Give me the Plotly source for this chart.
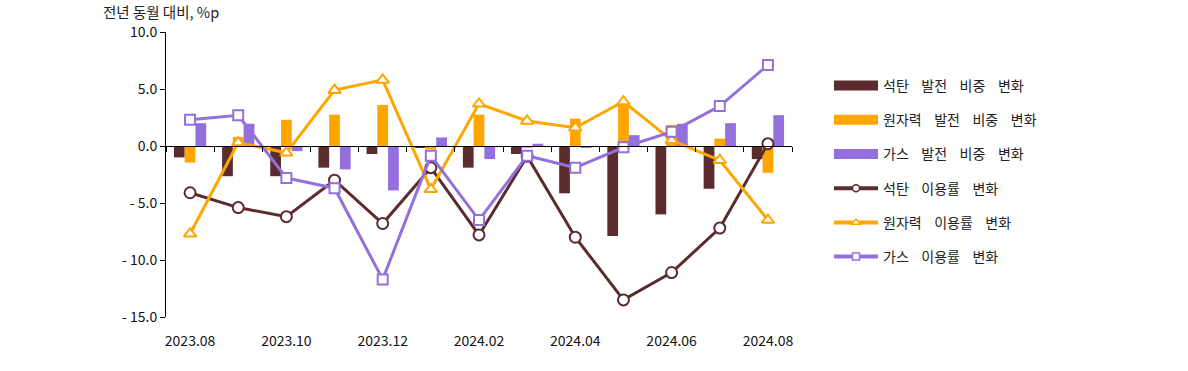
import plotly.graph_objects as go

months = ["2023.08", "2023.09", "2023.10", "2023.11", "2023.12", "2024.01", "2024.02",
          "2024.03", "2024.04", "2024.05", "2024.06", "2024.07", "2024.08"]
tick_months = ["2023.08", "2023.10", "2023.12", "2024.02", "2024.04", "2024.06", "2024.08"]

coal_share = [-1.0, -2.65, -2.65, -1.9, -0.7, -0.1, -1.9, -0.7, -4.15, -7.9, -6.0, -3.75, -1.15]
nuclear_share = [-1.45, 0.8, 2.3, 2.75, 3.6, -0.3, 2.75, -0.1, 2.4, 3.6, 1.85, 0.65, -2.35]
gas_share = [2.0, 1.95, -0.45, -2.05, -3.9, 0.75, -1.15, 0.2, -0.15, 0.95, 1.95, 2.0, 2.7]

coal_util = [-4.1, -5.4, -6.2, -3.0, -6.8, -1.9, -7.8, -0.9, -8.0, -13.5, -11.1, -7.2, 0.2]
nuclear_util = [-7.7, 0.3, -0.6, 4.9, 5.8, -3.8, 3.7, 2.2, 1.6, 3.9, 0.5, -1.25, -6.5]
gas_util = [2.3, 2.7, -2.8, -3.7, -11.7, -0.85, -6.5, -0.85, -1.9, -0.12, 1.25, 3.5, 7.1]

y_ticks = [10, 5, 0, -5, -10, -15]
y_ticktext = ["10.0", "5.0", "0.0", "- 5.0", "- 10.0", "- 15.0"]

COAL = "#5C2B2E"
NUC = "#FFA500"
GAS = "#9370DB"
FONT = "Noto Sans CJK KR"
SP = " \u00a0\u00a0\u00a0"

L, T, R, B = 166, 32, 792, 317   # plot-area edges in screen pixels
W, H = 1188, 371


def spaced(s):
    return s.replace(" ", SP)


fig = go.Figure()
bar_series = [("석탄 발전 비중 변화", coal_share, COAL),
              ("원자력 발전 비중 변화", nuclear_share, NUC),
              ("가스 발전 비중 변화", gas_share, GAS)]
line_series = [("석탄 이용률 변화", coal_util, COAL, "circle", 11),
               ("원자력 이용률 변화", nuclear_util, NUC, "triangle-up", 11),
               ("가스 이용률 변화", gas_util, GAS, "square", 10)]

for name, vals, col in bar_series:
    fig.add_trace(go.Bar(x=months, y=vals, name=name, marker=dict(color=col, line=dict(width=0)),
                         showlegend=False))

for name, vals, col, sym, size in line_series:
    fig.add_trace(go.Scatter(x=months, y=vals, name=name, mode="lines+markers",
                             line=dict(color=col, width=3),
                             marker=dict(symbol=sym, size=size, color="white",
                                         line=dict(color=col, width=2)),
                             showlegend=False))

# legend entries
for name, vals, col in bar_series:
    fig.add_trace(go.Scatter(x=[None], y=[None], name=spaced(name), mode="lines",
                             line=dict(color=col, width=13), legendgroup=name,
                             hoverinfo="skip"))
for name, vals, col, sym, size in line_series:
    fig.add_trace(go.Scatter(x=[None], y=[None], name=spaced(name), mode="lines+markers",
                             line=dict(color=col, width=4),
                             marker=dict(symbol=sym, size=7, color="white",
                                         line=dict(color=col, width=1.5)),
                             legendgroup=name, hoverinfo="skip"))

# invisible trace to carry the zero-line tick axis
fig.add_trace(go.Scatter(x=months, y=[None] * len(months), xaxis="x2", showlegend=False,
                         hoverinfo="skip"))

pw, ph = R - L, B - T


def px_x(x):
    return (x - L) / pw


def px_y(y):
    return (B - y) / ph


fig.update_layout(
    width=W, height=H,
    margin=dict(l=L, r=W - R, t=T, b=H - B, autoexpand=False),
    paper_bgcolor="white", plot_bgcolor="white",
    barmode="group", bargap=0.33, bargroupgap=0,
    font=dict(family=FONT, size=13, color="#222222"),
    xaxis=dict(type="category", categoryorder="array", categoryarray=months,
               range=[-0.5, 12.5], tickvals=tick_months, ticktext=tick_months,
               showline=False, showgrid=False, zeroline=False, ticks="",
               ticklabelstandoff=14,
               tickfont=dict(family=FONT, size=14, color="#111111")),
    xaxis2=dict(type="category", categoryorder="array", categoryarray=months,
                range=[-0.5, 12.5], overlaying="x", anchor="free",
                position=(0 - (-15)) / 25, showticklabels=False, showgrid=False,
                showline=True, linecolor="black", linewidth=1,
                ticks="outside", tickson="boundaries", ticklen=5, tickcolor="black"),
    yaxis=dict(range=[-15, 10], tickvals=y_ticks, ticktext=y_ticktext,
               showline=True, linecolor="black", linewidth=1, ticks="outside",
               ticklen=5, tickcolor="black", showgrid=False, zeroline=False,
               tickfont=dict(family=FONT, size=14, color="#111111")),
    legend=dict(x=px_x(829), y=px_y(70), xanchor="left", yanchor="top",
                font=dict(family=FONT, size=14, color="#222222"),
                itemwidth=44, tracegroupgap=13, traceorder="grouped",
                bgcolor="rgba(0,0,0,0)"),
)
fig.add_annotation(text="전년 동월 대비, %p", xref="paper", yref="paper",
                   x=px_x(101), y=px_y(11.5), xanchor="left", yanchor="middle",
                   showarrow=False, font=dict(family=FONT, size=14.5, color="#222222"))

fig.write_html("out.html", config={"displayModeBar": False},
               post_script="document.body.style.margin='0px';document.body.style.padding='0px';")
